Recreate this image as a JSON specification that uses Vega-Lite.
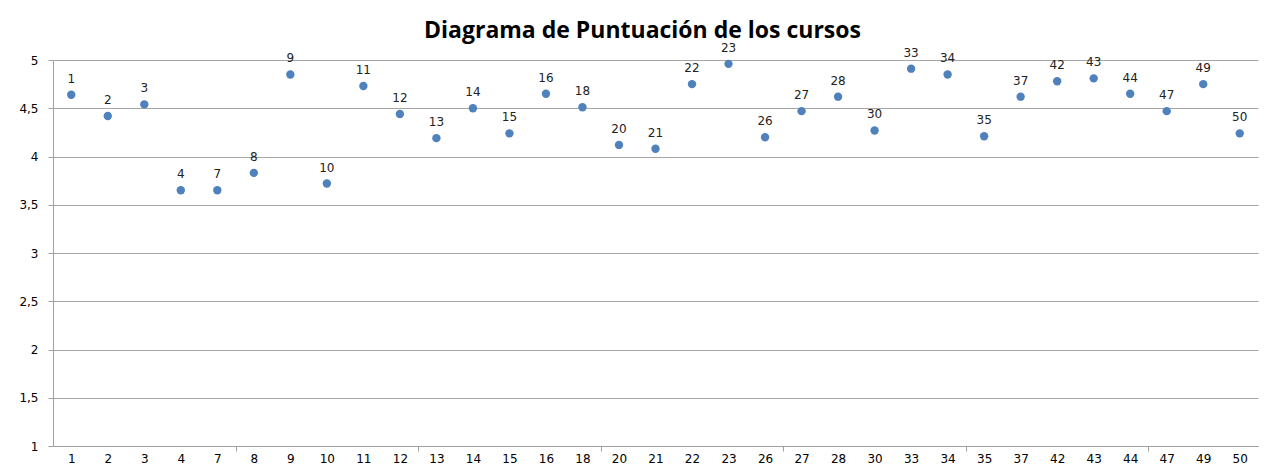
{
  "$schema": "https://vega.github.io/schema/vega-lite/v6.json",
  "autosize": {"type": "none"},
  "width": 1205,
  "height": 386,
  "padding": {"left": 53, "top": 60, "right": 7, "bottom": 18},
  "background": "white",
  "title": {
    "text": "Diagrama de Puntuación de los cursos",
    "font": "Open Sans",
    "fontSize": 23,
    "fontWeight": "bold",
    "color": "#000000",
    "anchor": "middle",
    "dx": -13,
    "offset": -1
  },
  "data": {
    "values": [
      {"curso": 1, "puntuacion": 4.64},
      {"curso": 2, "puntuacion": 4.42},
      {"curso": 3, "puntuacion": 4.54},
      {"curso": 4, "puntuacion": 3.65},
      {"curso": 7, "puntuacion": 3.65},
      {"curso": 8, "puntuacion": 3.83},
      {"curso": 9, "puntuacion": 4.85},
      {"curso": 10, "puntuacion": 3.72},
      {"curso": 11, "puntuacion": 4.73},
      {"curso": 12, "puntuacion": 4.44},
      {"curso": 13, "puntuacion": 4.19},
      {"curso": 14, "puntuacion": 4.5},
      {"curso": 15, "puntuacion": 4.24},
      {"curso": 16, "puntuacion": 4.65},
      {"curso": 18, "puntuacion": 4.51},
      {"curso": 20, "puntuacion": 4.12},
      {"curso": 21, "puntuacion": 4.08},
      {"curso": 22, "puntuacion": 4.75},
      {"curso": 23, "puntuacion": 4.96},
      {"curso": 26, "puntuacion": 4.2},
      {"curso": 27, "puntuacion": 4.47},
      {"curso": 28, "puntuacion": 4.62},
      {"curso": 30, "puntuacion": 4.27},
      {"curso": 33, "puntuacion": 4.91},
      {"curso": 34, "puntuacion": 4.85},
      {"curso": 35, "puntuacion": 4.21},
      {"curso": 37, "puntuacion": 4.62},
      {"curso": 42, "puntuacion": 4.78},
      {"curso": 43, "puntuacion": 4.81},
      {"curso": 44, "puntuacion": 4.65},
      {"curso": 47, "puntuacion": 4.47},
      {"curso": 49, "puntuacion": 4.75},
      {"curso": 50, "puntuacion": 4.24}
    ]
  },
  "encoding": {
    "x": {
      "field": "curso",
      "type": "ordinal",
      "scale": {"paddingInner": 0, "paddingOuter": 0},
      "axis": {
        "title": null,
        "labelAngle": 0,
        "labelFont": "DejaVu Sans",
        "labelFontSize": 12,
        "labelColor": "#000000",
        "labelPadding": 2,
        "tickBand": "extent",
        "tickSize": 5,
        "tickColor": {
          "condition": {"test": "indexof([7,12,18,26,34,44], datum.value) >= 0", "value": "#a0a0a0"},
          "value": "transparent"
        },
        "domainColor": "#a0a0a0",
        "grid": false
      }
    },
    "y": {
      "field": "puntuacion",
      "type": "quantitative",
      "scale": {"domain": [1, 5], "nice": false, "zero": false},
      "axis": {
        "title": null,
        "values": [1, 1.5, 2, 2.5, 3, 3.5, 4, 4.5, 5],
        "labelExpr": "replace(format(datum.value, '~g'), '.', ',')",
        "labelFont": "DejaVu Sans",
        "labelFontSize": 12,
        "labelColor": "#000000",
        "labelPadding": 10,
        "tickSize": 5,
        "tickColor": "#a0a0a0",
        "domainColor": "#a0a0a0",
        "gridColor": "#a6a6a6",
        "gridOpacity": 1
      }
    }
  },
  "layer": [
    {
      "mark": {"type": "point", "filled": true, "shape": "circle", "size": 70, "color": "#4F81BD", "opacity": 1}
    },
    {
      "mark": {"type": "text", "dy": -16, "font": "DejaVu Sans", "fontSize": 12, "color": "#222222"},
      "encoding": {"text": {"field": "curso", "type": "ordinal"}}
    }
  ],
  "config": {
    "view": {"stroke": null}
  }
}
